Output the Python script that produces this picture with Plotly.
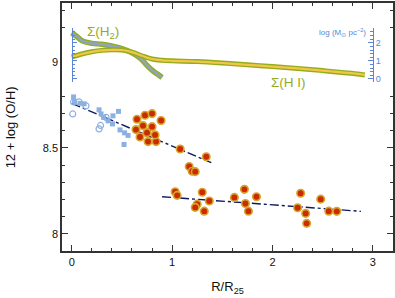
import plotly.graph_objects as go

# ---- data ----
red_x = [0.65, 0.73, 0.80, 0.89, 0.71, 0.64, 0.75, 0.68, 0.80, 0.76, 0.84, 0.83,
         1.08, 1.34, 1.17, 1.20, 1.23,
         1.03, 1.05, 1.30, 1.37, 1.25, 1.23, 1.32,
         1.62, 1.72, 1.73, 1.76, 1.84,
         2.28, 2.25, 2.33, 2.34, 2.48, 2.56, 2.64]
red_y = [8.667, 8.69, 8.70, 8.66, 8.63, 8.607, 8.589, 8.564, 8.624, 8.537, 8.537, 8.576,
         8.494, 8.449, 8.392, 8.364, 8.362,
         8.245, 8.224, 8.242, 8.191, 8.173, 8.154, 8.132,
         8.212, 8.259, 8.177, 8.132, 8.216,
         8.236, 8.152, 8.119, 8.061, 8.202, 8.132, 8.131]

sq_x = [0.018, 0.028, 0.083, 0.123, 0.272, 0.292, 0.317, 0.362, 0.411, 0.466, 0.406, 0.481, 0.526, 0.561, 0.521]
sq_y = [8.797, 8.771, 8.760, 8.757, 8.722, 8.698, 8.678, 8.658, 8.687, 8.713, 8.640, 8.605, 8.588, 8.573, 8.520]

oc_x = [0.010, 0.018, 0.073, 0.142, 0.272, 0.287, 0.342]
oc_y = [8.698, 8.768, 8.768, 8.745, 8.611, 8.631, 8.678]

fit1_x = [0.0, 1.39]
fit1_y = [8.76, 8.414]
fit2_x = [0.90, 2.88]
fit2_y = [8.216, 8.131]

h2_x = [0, 0.05, 0.1, 0.2, 0.3, 0.4, 0.5, 0.6, 0.65, 0.7, 0.75, 0.8, 0.85, 0.9]
h2_y = [2.55, 2.35, 2.12, 1.97, 1.92, 1.82, 1.68, 1.45, 1.28, 1.06, 0.75, 0.48, 0.28, 0.08]

hi_x = [0, 0.1, 0.2, 0.3, 0.4, 0.5, 0.6, 0.7, 0.8, 0.9, 1.0, 1.25, 1.5, 1.75, 2.0, 2.25, 2.5, 2.75, 2.92]
hi_y = [1.22, 1.38, 1.50, 1.58, 1.61, 1.60, 1.48, 1.28, 1.10, 1.03, 1.00, 0.96, 0.88, 0.78, 0.68, 0.58, 0.46, 0.33, 0.22]

x_ticks = [0, 1, 2, 3]
y_ticks = [8, 8.5, 9]
sig_ticks = [0, 1, 2]

XR = [-0.097, 3.2]
YR = [7.90, 9.344]
SR = [-0.2, 2.8]

def xpos(v):
    return (v - XR[0]) / (XR[1] - XR[0])

fig = go.Figure()

BLUE = '#8db0e2'
GREEN = '#93ad1c'
AXBLUE = '#5b86d6'

# Sigma curves
fig.add_trace(go.Scatter(x=h2_x, y=h2_y, yaxis='y2', mode='lines',
                         line=dict(color=GREEN, width=5.5, shape='spline'), hoverinfo='skip'))
fig.add_trace(go.Scatter(x=h2_x, y=h2_y, yaxis='y2', mode='lines',
                         line=dict(color='#8ea6bd', width=2.8, shape='spline'), hoverinfo='skip'))
fig.add_trace(go.Scatter(x=hi_x, y=hi_y, yaxis='y3', mode='lines',
                         line=dict(color=GREEN, width=5, shape='spline'), hoverinfo='skip'))
fig.add_trace(go.Scatter(x=hi_x, y=hi_y, yaxis='y3', mode='lines',
                         line=dict(color='#f2c64a', width=2.2, shape='spline'), hoverinfo='skip'))

# fits
for fx, fy in [(fit1_x, fit1_y), (fit2_x, fit2_y)]:
    fig.add_trace(go.Scatter(x=fx, y=fy, mode='lines',
                             line=dict(color='#0d1a5e', width=1.4, dash='dashdot')))

# blue points
fig.add_trace(go.Scatter(x=sq_x, y=sq_y, mode='markers',
                         marker=dict(symbol='square', size=5, color=BLUE)))
fig.add_trace(go.Scatter(x=oc_x, y=oc_y, mode='markers',
                         marker=dict(symbol='circle-open', size=6, color=BLUE, line=dict(width=1.2))))
# red points
fig.add_trace(go.Scatter(x=red_x, y=red_y, mode='markers',
                         marker=dict(symbol='circle', size=7.5, color='#cc2a00',
                                     line=dict(color='#d6a52c', width=1.6))))

axcol = '#333333'
fnt = dict(family='Liberation Sans, Arial, sans-serif', size=11, color='#111')

fig.update_layout(
    width=395, height=298,
    margin=dict(l=62, r=2, t=3, b=47),
    paper_bgcolor='white', plot_bgcolor='white',
    showlegend=False,
    font=fnt,
    xaxis=dict(range=XR, tickvals=x_ticks, ticks='inside', ticklen=6, tickwidth=1.2,
               tickcolor=axcol, showline=True, linecolor=axcol, linewidth=1.5,
               mirror='ticks', showgrid=False, zeroline=False, automargin=False,
               minor=dict(dtick=0.2, ticks='inside', ticklen=3, tickcolor=axcol),
               title=dict(text='R/R<sub>25</sub>', font=dict(size=13)),
               tickfont=dict(size=11)),
    yaxis=dict(range=YR, tickvals=y_ticks, ticktext=['8', '8.5', '9'], ticks='inside', ticklen=6,
               tickwidth=1.2, tickcolor=axcol, showline=True, linecolor=axcol, linewidth=1.5,
               mirror='ticks', showgrid=False, zeroline=False, automargin=False,
               minor=dict(dtick=0.1, ticks='inside', ticklen=3, tickcolor=axcol),
               tickfont=dict(size=11)),
    yaxis2=dict(range=SR, domain=[0.6795, 0.8977], anchor='free', position=xpos(0),
                side='left', showticklabels=False, ticks='inside', ticklen=4, automargin=False,
                tickvals=sig_ticks, tickcolor=AXBLUE, showline=True, linecolor=AXBLUE,
                linewidth=1, showgrid=False, zeroline=False,
                minor=dict(dtick=0.2, ticks='inside', ticklen=2.5, tickcolor=AXBLUE)),
    yaxis3=dict(range=SR, overlaying='y2', anchor='free', position=xpos(3), automargin=False,
                side='right', showticklabels=True, ticks='inside', ticklen=5,
                tickvals=sig_ticks, tickcolor=AXBLUE, showline=True, linecolor=AXBLUE,
                linewidth=1, showgrid=False, zeroline=False,
                tickfont=dict(size=9, color=AXBLUE),
                minor=dict(dtick=0.2, ticks='inside', ticklen=2.5, tickcolor=AXBLUE)),
)

# y axis title as rotated annotation
fig.add_annotation(x=-0.156, xref='paper', y=0.5, yref='paper', text='12 + log (O/H)',
                   showarrow=False, textangle=-90, xanchor='center', yanchor='middle',
                   font=dict(size=13, color='#111'))

fig.add_annotation(x=0.13, y=2.55, xref='x', yref='y2', text='Σ(H<sub>2</sub>)', showarrow=False,
                   font=dict(size=13.5, color=GREEN), xanchor='left')
fig.add_annotation(x=2.16, y=8.88, xref='x', yref='y', text='Σ(H I)', showarrow=False,
                   font=dict(size=13.5, color=GREEN))
fig.add_annotation(x=2.95, y=2.55, xref='x', yref='y2', text='log (M<sub>⊙</sub> pc<sup>−2</sup>)',
                   showarrow=False, font=dict(size=8, color=AXBLUE), xanchor='right')

fig.write_html('out.html', config={'displayModeBar': False},
               post_script="document.body.style.margin='0';document.body.style.overflow='hidden';")
